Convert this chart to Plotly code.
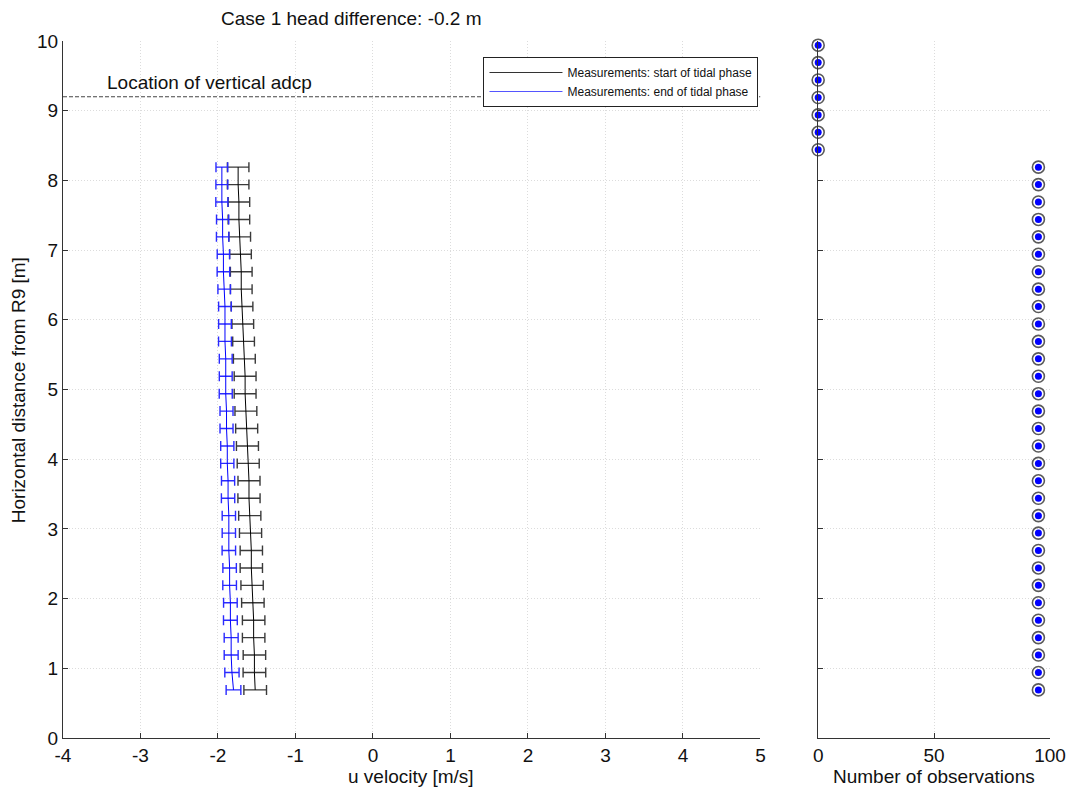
import plotly.graph_objects as go

# ---------------- data ----------------
distance = [0.69, 0.94, 1.19, 1.44, 1.69, 1.94, 2.19, 2.44, 2.69, 2.94,
            3.19, 3.44, 3.69, 3.94, 4.19, 4.44, 4.69, 4.94, 5.19, 5.44,
            5.69, 5.94, 6.19, 6.44, 6.69, 6.94, 7.19, 7.44, 7.69, 7.94, 8.19]
u_start = [-1.52, -1.53, -1.53, -1.54, -1.54, -1.55, -1.56, -1.57, -1.57, -1.58,
           -1.59, -1.60, -1.60, -1.61, -1.62, -1.63, -1.64, -1.65, -1.65, -1.66,
           -1.67, -1.68, -1.69, -1.70, -1.70, -1.71, -1.72, -1.73, -1.73, -1.74, -1.74]
u_start_err = [0.146, 0.146, 0.145, 0.145, 0.145, 0.145, 0.144, 0.144, 0.144, 0.143,
               0.143, 0.143, 0.142, 0.142, 0.142, 0.142, 0.141, 0.141, 0.141, 0.141,
               0.140, 0.140, 0.140, 0.140, 0.140, 0.140, 0.140, 0.139, 0.139, 0.139, 0.139]
u_end = [-1.80, -1.82, -1.83, -1.83, -1.84, -1.84, -1.85, -1.85, -1.86, -1.86,
         -1.86, -1.87, -1.87, -1.88, -1.88, -1.89, -1.89, -1.90, -1.90, -1.90,
         -1.91, -1.91, -1.91, -1.92, -1.93, -1.93, -1.94, -1.94, -1.95, -1.95, -1.95]
u_end_err = [0.095, 0.092, 0.090, 0.090, 0.089, 0.088, 0.088, 0.087, 0.087, 0.086,
             0.086, 0.086, 0.085, 0.085, 0.085, 0.084, 0.084, 0.084, 0.083, 0.083,
             0.083, 0.082, 0.082, 0.081, 0.081, 0.080, 0.080, 0.079, 0.078, 0.077, 0.076]

obs_distance = [0.69, 0.94, 1.19, 1.44, 1.69, 1.94, 2.19, 2.44, 2.69, 2.94,
                3.19, 3.44, 3.69, 3.94, 4.19, 4.44, 4.69, 4.94, 5.19, 5.44,
                5.69, 5.94, 6.19, 6.44, 6.69, 6.94, 7.19, 7.44, 7.69, 7.94, 8.19,
                8.44, 8.69, 8.94, 9.19, 9.44, 9.69, 9.94]
obs_count = [95] * 31 + [0] * 7

u_ticks = [-4, -3, -2, -1, 0, 1, 2, 3, 4, 5]
u_ticktext = ["-4", "-3", "-2", "-1", "0", "1", "2", "3", "4", "5"]
obs_ticks = [0, 50, 100]
dist_ticks = [0, 1, 2, 3, 4, 5, 6, 7, 8, 9, 10]

adcp_location = 9.2
title_text = "Case 1 head difference: -0.2 m"
legend_names = ["Measurements: start of tidal phase", "Measurements: end of tidal phase"]

FONT = "Liberation Sans, Arial, sans-serif"
FS = 19
TXT = "#111111"

fig = go.Figure()

fig.add_trace(go.Scatter(
    x=u_start, y=distance, mode="lines", showlegend=False,
    line=dict(color="black", width=1),
    error_x=dict(type="data", array=u_start_err, color="#3a3a3a", thickness=1.4, width=5),
    xaxis="x", yaxis="y"))
fig.add_trace(go.Scatter(
    x=u_end, y=distance, mode="lines", showlegend=False,
    line=dict(color="#0000ff", width=1),
    error_x=dict(type="data", array=u_end_err, color="#2a2aff", thickness=1.4, width=5),
    xaxis="x", yaxis="y"))
# legend entries
fig.add_trace(go.Scatter(x=[None], y=[None], mode="lines", name=legend_names[0],
                         line=dict(color="#333333", width=1.2), xaxis="x", yaxis="y"))
fig.add_trace(go.Scatter(x=[None], y=[None], mode="lines", name=legend_names[1],
                         line=dict(color="#5555ff", width=1.2), xaxis="x", yaxis="y"))

# right panel: number of observations
fig.add_trace(go.Scatter(
    x=obs_count, y=obs_distance, mode="markers", showlegend=False,
    marker=dict(symbol="circle-open", size=12, color="#5a5a5a", line=dict(width=1.6)),
    cliponaxis=False, xaxis="x2", yaxis="y2"))
fig.add_trace(go.Scatter(
    x=obs_count, y=obs_distance, mode="markers", showlegend=False,
    marker=dict(symbol="circle", size=7, color="#0000ff", line=dict(width=0)),
    cliponaxis=False, xaxis="x2", yaxis="y2"))

# adcp location line
fig.add_shape(type="line", xref="x", yref="y", x0=-4, x1=5,
              y0=adcp_location, y1=adcp_location,
              line=dict(color="#444444", width=1, dash="4px,2px"))

axis_common = dict(showline=True, linecolor="#333333", linewidth=1,
                   ticks="inside", ticklen=5, tickcolor="#333333",
                   showgrid=True, gridcolor="#dcdcdc", griddash="1px,2px", gridwidth=1,
                   zeroline=False, mirror=False,
                   tickfont=dict(family=FONT, size=FS, color=TXT))

L, R, T, B = 63, 23, 41, 58
W, H = 1078, 796
pw = W - L - R
ph = H - T - B

fig.update_layout(
    width=W, height=H,
    margin=dict(l=L, r=R, t=T, b=B),
    paper_bgcolor="white", plot_bgcolor="white",
    showlegend=True,
    xaxis=dict(domain=[0, (764 - L) / pw], range=[-4, 5], tickvals=u_ticks,
               ticktext=u_ticktext, **axis_common),
    yaxis=dict(range=[0, 10], tickvals=dist_ticks, **axis_common),
    xaxis2=dict(domain=[(822 - L) / pw, 1], range=[0, 100], tickvals=obs_ticks,
                anchor="y2", **axis_common),
    yaxis2=dict(range=[0, 10], tickvals=dist_ticks, anchor="x2", matches="y",
                showticklabels=False, **axis_common),
    legend=dict(x=(762 - L) / pw, y=(H - B - 57) / ph, xanchor="right", yanchor="top",
                bgcolor="white", bordercolor="#222222", borderwidth=1,
                font=dict(family=FONT, size=12, color=TXT),
                tracegroupgap=0, itemwidth=73),
    font=dict(family=FONT, color=TXT),
)

annotations = [
    dict(text=title_text, x=(220 - L) / pw, y=(H - B - 18) / ph, xref="paper", yref="paper",
         showarrow=False, xanchor="left", yanchor="middle",
         font=dict(family=FONT, size=FS, color=TXT)),
    dict(text="u velocity [m/s]", x=(413 - L) / pw, y=(H - B - 776) / ph, xref="paper", yref="paper",
         showarrow=False, xanchor="center", yanchor="middle",
         font=dict(family=FONT, size=FS, color=TXT)),
    dict(text="Number of observations", x=(938 - L) / pw, y=(H - B - 776) / ph, xref="paper", yref="paper",
         showarrow=False, xanchor="center", yanchor="middle",
         font=dict(family=FONT, size=FS, color=TXT)),
    dict(text="Horizontal distance from R9 [m]", x=(18 - L) / pw, y=(H - B - 390) / ph,
         xref="paper", yref="paper", textangle=-90,
         showarrow=False, xanchor="center", yanchor="middle",
         font=dict(family=FONT, size=FS, color=TXT)),
    dict(text="Location of vertical adcp", x=-3.46, y=9.41, xref="x", yref="y",
         showarrow=False, xanchor="left", yanchor="middle",
         font=dict(family=FONT, size=FS, color=TXT)),
]
fig.update_layout(annotations=annotations)

fig.write_html("out.html")
